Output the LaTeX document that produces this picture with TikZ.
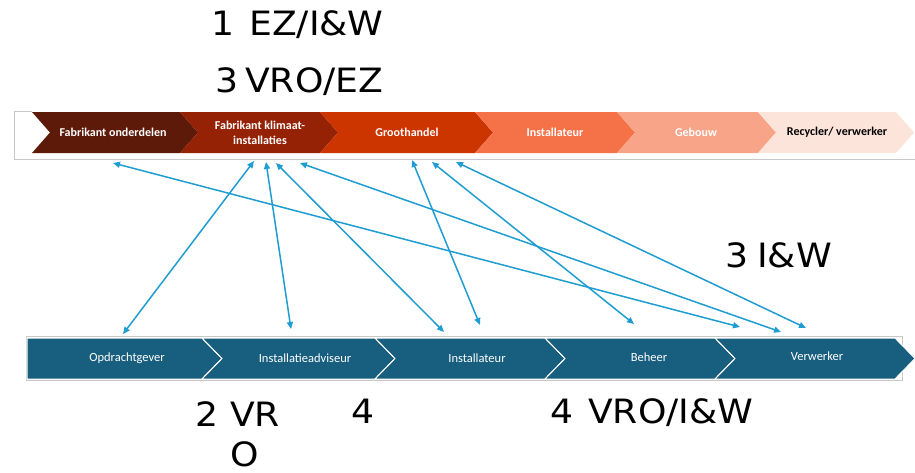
\documentclass[tikz,border=0pt]{standalone}
\usepackage{fontspec}
\setmainfont{Carlito}
\newfontfamily\nummerfont[FakeStretch=1.08]{DejaVu Sans}
\usetikzlibrary{arrows.meta}
\definecolor{ketenA}{RGB}{94,26,8}
\definecolor{ketenB}{RGB}{150,34,6}
\definecolor{ketenC}{RGB}{204,52,0}
\definecolor{ketenD}{RGB}{245,114,72}
\definecolor{ketenE}{RGB}{248,164,136}
\definecolor{ketenF}{RGB}{253,228,218}
\definecolor{rolblauw}{RGB}{24,94,126}
\definecolor{pijlblauw}{RGB}{31,157,209}
\definecolor{randgrijs}{RGB}{200,200,200}
\tikzstyle{schakel} = [text=white, font=\bfseries\fontsize{12}{15}\selectfont, align=center, inner sep=0pt]
\tikzstyle{rol} = [text=white, font=\fontsize{12.5}{14}\selectfont, inner sep=0pt]
\tikzstyle{pijl} = [draw=pijlblauw, line width=1.5pt, {Triangle[length=7pt,width=6pt]}-{Triangle[length=7pt,width=6pt]}]
\tikzstyle{nummer} = [font=\nummerfont\fontsize{33.5}{42}\selectfont, anchor=base west, inner sep=0pt]

\begin{document}
\begin{tikzpicture}[x=1pt,y=-1pt]
		\useasboundingbox (0,0) rectangle (915,472);
		\draw[randgrijs] (32,111) -- (14,111) -- (14,159) -- (915,159);
		\foreach \l/\r/\kleur in {32/180/ketenA, 180/320/ketenB, 320/475/ketenC, 475/617/ketenD, 617/758/ketenE, 758/896/ketenF}
			\fill[\kleur] (\l,112) -- (\r,112) -- (\r+18,132.5) -- (\r,153) -- (\l,153) -- (\l+18,132.5) -- cycle;
		\node[schakel] (onderdelen) at (113,132) {Fabrikant onderdelen};
		\node[schakel] (klimaat) at (260,133) {Fabrikant klimaat-\\installaties};
		\node[schakel] (groothandel) at (407,132) {Groothandel};
		\node[schakel] (installateur) at (555,132) {Installateur};
		\node[schakel] (gebouw) at (696,132) {Gebouw};
		\node[schakel, text=black] (recycler) at (837,132) {Recycler/ verwerker};

		\draw[randgrijs] (26,336) rectangle (902,380);
		\foreach \l/\r/\n in {27/202/0, 202/375/20, 375/545/20, 545/715/20, 715/895/20}
			\filldraw[fill=rolblauw, draw=white, line width=1pt] (\l,338) -- (\r,338) -- (\r+20,358.5) -- (\r,379) -- (\l,379) -- (\l+\n,358.5) -- cycle;
		\node[rol] (opdrachtgever) at (127,358) {Opdrachtgever};
		\node[rol] (adviseur) at (305,358) {Installatieadviseur};
		\node[rol] (uitvoerder) at (477,358) {Installateur};
		\node[rol] (beheer) at (649,357) {Beheer};
		\node[rol] (verwerker) at (817,356) {Verwerker};

		\coordinate (t1) at (113,163);
		\coordinate (t2) at (254,161);
		\coordinate (t3) at (266,162);
		\coordinate (t4) at (276,163);
		\coordinate (t5) at (300,163);
		\coordinate (t6) at (412,160);
		\coordinate (t7) at (432,162);
		\coordinate (t8) at (456,162);
		\coordinate (b1) at (740,327);
		\coordinate (b2) at (123,334);
		\coordinate (b3) at (291,329);
		\coordinate (b4) at (444,332);
		\coordinate (b5) at (781,332);
		\coordinate (b6) at (480,325);
		\coordinate (b7) at (634,324);
		\coordinate (b8) at (806,328);
		\foreach \i in {1,...,8}
			\draw[pijl] (t\i) -- (b\i);

		\node[nummer] (ezinw) at (211,35) {1\hspace{15pt}EZ/I\&W};
		\node[nummer] (vroez) at (215,92) {3\hspace{7pt}VRO/EZ};
		\node[nummer] (inw) at (725,267) {3\hspace{9pt}I\&W};
		\node[nummer] (vr) at (195,426) {2\hspace{12pt}VR};
		\node[nummer] (vro) at (230,466) {O};
		\node[nummer] (vier) at (351,423) {4};
		\node[nummer] (vroinw) at (550,423) {4\hspace{15pt}VRO/I\&W};
	\end{tikzpicture}
\end{document}
